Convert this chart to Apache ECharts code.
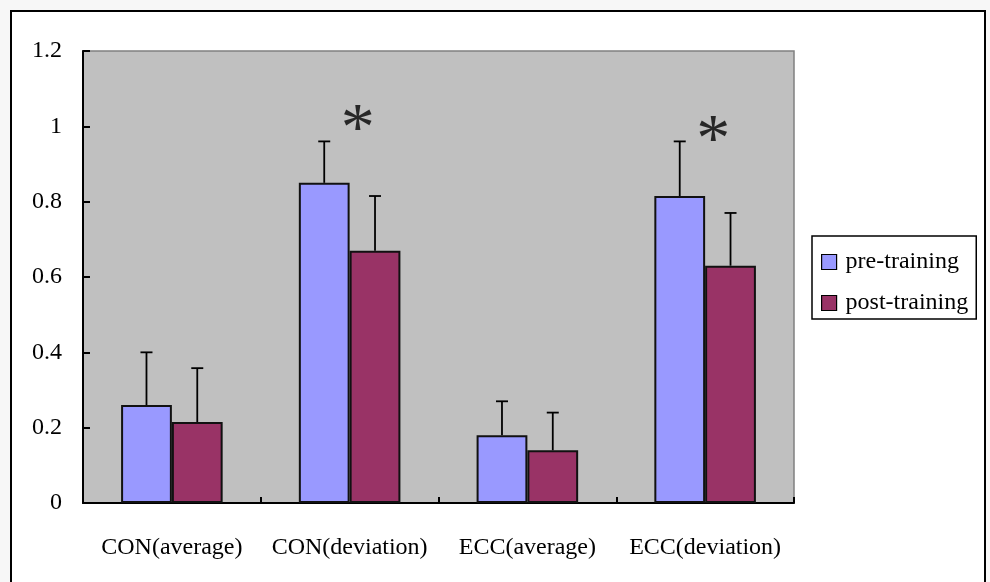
<!DOCTYPE html>
<html>
<head>
<meta charset="utf-8">
<script src="https://cdn.jsdelivr.net/npm/echarts@6/dist/echarts.min.js"></script>
<style>
html,body{margin:0;padding:0;background:#f7f7f7;}
#main{width:990px;height:582px;}
</style>
</head>
<body>
<div id="main"></div>
<script>
var categories = ['CON(average)', 'CON(deviation)', 'ECC(average)', 'ECC(deviation)'];
var preTraining = [0.26, 0.85, 0.18, 0.815];
var postTraining = [0.215, 0.67, 0.14, 0.63];
var preSD = [0.14, 0.11, 0.09, 0.145];
var postSD = [0.143, 0.145, 0.10, 0.14];
var significance = [null, 1.02, null, 0.99];
var yTicks = [0, 0.2, 0.4, 0.6, 0.8, 1, 1.2];

var FONT = '"Liberation Serif", "Times New Roman", serif';
var chart = echarts.init(document.getElementById('main'));

function errorSeries(name, values, sds, side) {
  return {
    name: name + ' SD',
    type: 'custom',
    z: 3,
    silent: true,
    data: categories.map(function (c, i) { return [i, values[i], values[i] + sds[i]]; }),
    renderItem: function (params, api) {
      var catW = api.size([1, 0])[0];
      var off = side * catW / 7;
      var base = api.coord([api.value(0), api.value(1)]);
      var top = api.coord([api.value(0), api.value(2)]);
      var x = base[0] + off;
      var style = { stroke: '#000', lineWidth: 1.8 };
      return {
        type: 'group',
        children: [
          { type: 'line', shape: { x1: x, y1: base[1], x2: x, y2: top[1] }, style: style },
          { type: 'line', shape: { x1: x - 6, y1: top[1], x2: x + 6, y2: top[1] }, style: style }
        ]
      };
    }
  };
}

var option = {
  backgroundColor: '#f7f7f7',
  animation: false,
  graphic: [{
    type: 'rect',
    z: -100,
    shape: { x: 11, y: 11, width: 974, height: 620 },
    style: { fill: '#ffffff', stroke: '#000', lineWidth: 2 }
  }],
  grid: {
    left: 83, right: 196, top: 51, bottom: 79,
    show: true, backgroundColor: '#c0c0c0', borderColor: '#808080', borderWidth: 1.5
  },
  legend: {
    orient: 'vertical',
    left: 812, top: 236,
    padding: [14, 8, 4, 9],
    itemGap: 17,
    itemWidth: 15, itemHeight: 15,
    borderColor: '#000', borderWidth: 1.5,
    backgroundColor: '#fff',
    icon: 'rect',
    data: ['pre-training', 'post-training'],
    textStyle: { fontFamily: FONT, fontSize: 24, color: '#000', padding: [0, 0, 0, 4] },
    itemStyle: { borderColor: '#000', borderWidth: 1.2 }
  },
  xAxis: {
    type: 'category',
    data: categories,
    axisLine: { lineStyle: { color: '#000', width: 2 } },
    axisTick: { show: true, inside: true, length: 6, lineStyle: { color: '#000', width: 2 } },
    axisLabel: { interval: 0, margin: 33, fontFamily: FONT, fontSize: 24, color: '#000' },
    splitLine: { show: false }
  },
  yAxis: {
    type: 'value',
    min: 0, max: 1.2, interval: 0.2,
    axisLine: { show: true, lineStyle: { color: '#000', width: 2 } },
    axisTick: { show: true, inside: true, length: 7, lineStyle: { color: '#000', width: 2 } },
    axisLabel: {
      margin: 21, fontFamily: FONT, fontSize: 24, color: '#000',
      formatter: function (v) {
        var t = yTicks.filter(function (k) { return Math.abs(k - v) < 1e-9; })[0];
        return String(t !== undefined ? t : v);
      }
    },
    splitLine: { show: false }
  },
  series: [
    {
      name: 'pre-training', type: 'bar', data: preTraining,
      barGap: '0%', barCategoryGap: '42.86%',
      itemStyle: { color: '#9999ff', borderColor: '#111', borderWidth: 2 }
    },
    {
      name: 'post-training', type: 'bar', data: postTraining,
      barGap: '0%', barCategoryGap: '42.86%',
      itemStyle: { color: '#993366', borderColor: '#111', borderWidth: 2 }
    },
    errorSeries('pre-training', preTraining, preSD, -1),
    errorSeries('post-training', postTraining, postSD, 1),
    {
      name: 'significance', type: 'scatter', symbolSize: 0, silent: true,
      data: significance.map(function (v, i) { return v === null ? null : [i, v]; }).filter(function (d) { return d; }),
      label: {
        show: true, position: 'inside', offset: [8, 12],
        formatter: '*',
        fontFamily: FONT, fontSize: 68, color: '#000', lineHeight: 68
      }
    }
  ]
};
chart.setOption(option);
</script>
</body>
</html>
